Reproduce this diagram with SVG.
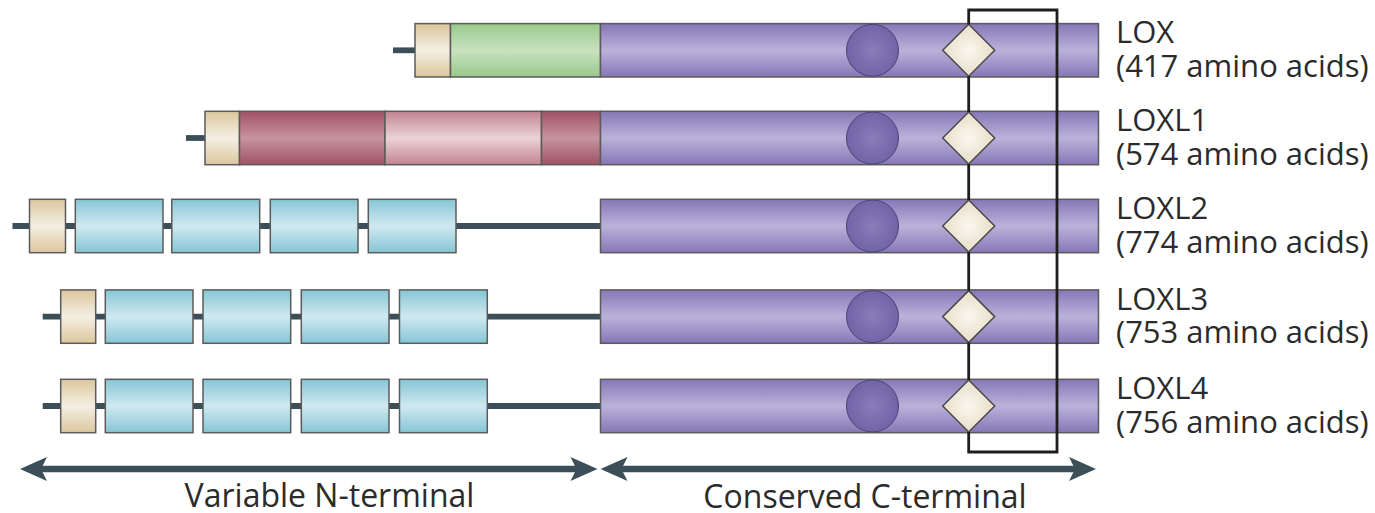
<svg xmlns="http://www.w3.org/2000/svg" width="1375" height="513" viewBox="0 0 1375 513">
  <defs>
    <linearGradient id="gPurple" x1="0" y1="0" x2="0" y2="1">
      <stop offset="0" stop-color="#8677b6"/>
      <stop offset="0.5" stop-color="#bab2da"/>
      <stop offset="1" stop-color="#8677b6"/>
    </linearGradient>
    <linearGradient id="gGreen" x1="0" y1="0" x2="0" y2="1">
      <stop offset="0" stop-color="#98c98b"/>
      <stop offset="0.5" stop-color="#c9e2c1"/>
      <stop offset="1" stop-color="#98c98b"/>
    </linearGradient>
    <linearGradient id="gTan" x1="0" y1="0" x2="0" y2="1">
      <stop offset="0" stop-color="#dcc69d"/>
      <stop offset="0.5" stop-color="#f4efe3"/>
      <stop offset="1" stop-color="#dcc69d"/>
    </linearGradient>
    <linearGradient id="gRed" x1="0" y1="0" x2="0" y2="1">
      <stop offset="0" stop-color="#9f5266"/>
      <stop offset="0.5" stop-color="#c8939f"/>
      <stop offset="1" stop-color="#9f5266"/>
    </linearGradient>
    <linearGradient id="gPink" x1="0" y1="0" x2="0" y2="1">
      <stop offset="0" stop-color="#c2848f"/>
      <stop offset="0.5" stop-color="#ead3d7"/>
      <stop offset="1" stop-color="#c2848f"/>
    </linearGradient>
    <linearGradient id="gBlue" x1="0" y1="0" x2="0" y2="1">
      <stop offset="0" stop-color="#86c5d5"/>
      <stop offset="0.5" stop-color="#d0e9f0"/>
      <stop offset="1" stop-color="#86c5d5"/>
    </linearGradient>
    <radialGradient id="gCircle" cx="0.5" cy="0.5" r="0.5">
      <stop offset="0" stop-color="#8b7dba"/>
      <stop offset="1" stop-color="#7163a6"/>
    </radialGradient>
    <radialGradient id="gDiamond" cx="0.5" cy="0.5" r="0.5">
      <stop offset="0" stop-color="#faf7f0"/>
      <stop offset="1" stop-color="#e8dec8"/>
    </radialGradient>
    <!-- shared shapes: catalytic domain bar with copper-binding circle and LTQ diamond -->
    <g id="cterm">
      <rect class="seg" x="600.5" y="-26.7" width="498" height="53.4" fill="url(#gPurple)"/>
      <circle class="cu" cx="872.5" cy="0" r="26"/>
    </g>
    <polygon id="ltq" class="ltq" points="968.7,-26 994.7,0 968.7,26 942.7,0"/>
  </defs>
  <style>
    .seg { stroke: #5b5b5b; stroke-width: 1.5; }
    .link { stroke: #3c4f58; stroke-width: 5.8; fill: none; }
    .cu { fill: url(#gCircle); stroke: #4c4374; stroke-width: 1; }
    .ltq { fill: url(#gDiamond); stroke: #4a4a4a; stroke-width: 1.5; }
    .bracket { fill: none; stroke: #1e1e1e; stroke-width: 2.8; }
    .axis { fill: #3c4f58; }
    .axisline { stroke: #3c4f58; stroke-width: 6.5; }
    text { font-family: "Open Sans", "Noto Sans", sans-serif; fill: #2b2b2b; }
    .name { font-size: 31px; }
    .axislabel { font-size: 32px; text-anchor: middle; }
  </style>

  <!-- LOX -->
  <g id="lox" transform="translate(0,50.3)">
    <line class="link" x1="393" y1="0" x2="415" y2="0"/>
    <rect class="seg" x="415" y="-26.7" width="35.5" height="53.4" fill="url(#gTan)"/>
    <rect class="seg" x="450.5" y="-26.7" width="150" height="53.4" fill="url(#gGreen)"/>
    <use href="#cterm"/>
    <use href="#ltq"/>
    <text class="name" x="1116" y="-7">LOX</text>
    <text class="name" x="1116" y="26.5">(417 amino acids)</text>
  </g>

  <!-- LOXL1 -->
  <g id="loxl1" transform="translate(0,138)">
    <line class="link" x1="186" y1="0" x2="205" y2="0"/>
    <rect class="seg" x="205" y="-26.7" width="34.5" height="53.4" fill="url(#gTan)"/>
    <rect class="seg" x="239.5" y="-26.7" width="145.5" height="53.4" fill="url(#gRed)"/>
    <rect class="seg" x="385" y="-26.7" width="156.5" height="53.4" fill="url(#gPink)"/>
    <rect class="seg" x="541.5" y="-26.7" width="59" height="53.4" fill="url(#gRed)"/>
    <use href="#cterm"/>
    <use href="#ltq"/>
    <text class="name" x="1116" y="-7">LOXL1</text>
    <text class="name" x="1116" y="26.5">(574 amino acids)</text>
  </g>

  <!-- LOXL2 -->
  <g id="loxl2" transform="translate(0,226)">
    <line class="link" x1="12.5" y1="0" x2="600.5" y2="0"/>
    <rect class="seg" x="29.5" y="-26.7" width="36" height="53.4" fill="url(#gTan)"/>
    <rect class="seg" x="75.3" y="-26.7" width="87.7" height="53.4" fill="url(#gBlue)"/>
    <rect class="seg" x="171.8" y="-26.7" width="87.9" height="53.4" fill="url(#gBlue)"/>
    <rect class="seg" x="270.3" y="-26.7" width="87.7" height="53.4" fill="url(#gBlue)"/>
    <rect class="seg" x="368.3" y="-26.7" width="87.7" height="53.4" fill="url(#gBlue)"/>
    <use href="#cterm"/>
    <use href="#ltq"/>
    <text class="name" x="1116" y="-7">LOXL2</text>
    <text class="name" x="1116" y="26.5">(774 amino acids)</text>
  </g>

  <!-- LOXL3 -->
  <g id="loxl3" transform="translate(0,316.6)">
    <line class="link" x1="42.7" y1="0" x2="600.5" y2="0"/>
    <rect class="seg" x="60.7" y="-26.7" width="35" height="53.4" fill="url(#gTan)"/>
    <rect class="seg" x="105.3" y="-26.7" width="87.7" height="53.4" fill="url(#gBlue)"/>
    <rect class="seg" x="203" y="-26.7" width="87.7" height="53.4" fill="url(#gBlue)"/>
    <rect class="seg" x="301.3" y="-26.7" width="87.7" height="53.4" fill="url(#gBlue)"/>
    <rect class="seg" x="399.5" y="-26.7" width="87.8" height="53.4" fill="url(#gBlue)"/>
    <use href="#cterm"/>
    <use href="#ltq"/>
    <text class="name" x="1116" y="-7">LOXL3</text>
    <text class="name" x="1116" y="26.5">(753 amino acids)</text>
  </g>

  <!-- LOXL4 -->
  <g id="loxl4" transform="translate(0,406)">
    <line class="link" x1="42.7" y1="0" x2="600.5" y2="0"/>
    <rect class="seg" x="60.7" y="-26.7" width="35" height="53.4" fill="url(#gTan)"/>
    <rect class="seg" x="105.3" y="-26.7" width="87.7" height="53.4" fill="url(#gBlue)"/>
    <rect class="seg" x="203" y="-26.7" width="87.7" height="53.4" fill="url(#gBlue)"/>
    <rect class="seg" x="301.3" y="-26.7" width="87.7" height="53.4" fill="url(#gBlue)"/>
    <rect class="seg" x="399.5" y="-26.7" width="87.8" height="53.4" fill="url(#gBlue)"/>
    <use href="#cterm"/>
    <use href="#ltq"/>
    <text class="name" x="1116" y="-7">LOXL4</text>
    <text class="name" x="1116" y="26.5">(756 amino acids)</text>
  </g>

  <!-- connectors: bracket joining the LTQ diamonds -->
  <g id="connectors">
    <path class="bracket" d="M968.7,24.3 V10 H1057 V452 H968.7 V432"/>
    <path class="bracket" d="M968.7,76.3 V112 M968.7,164 V200 M968.7,252 V290.6 M968.7,342.6 V380"/>
  </g>

  <!-- domain extent arrows -->
  <g id="axis">
    <line class="axisline" x1="38" y1="469" x2="580" y2="469"/>
    <polygon class="axis" points="20,469 47,457 41,469 47,481"/>
    <polygon class="axis" points="597.5,469 570.5,457 576.5,469 570.5,481"/>
    <line class="axisline" x1="618" y1="469" x2="1078" y2="469"/>
    <polygon class="axis" points="600.5,469 627.5,457 621.5,469 627.5,481"/>
    <polygon class="axis" points="1096,469 1069,457 1075,469 1069,481"/>
    <text class="axislabel" x="329.5" y="507">Variable N-terminal</text>
    <text class="axislabel" x="865" y="508">Conserved C-terminal</text>
  </g>
</svg>
